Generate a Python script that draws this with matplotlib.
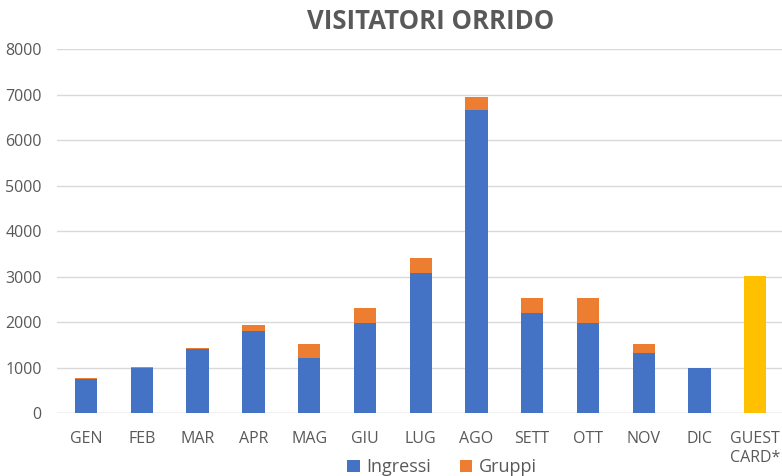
import numpy as np
import matplotlib

matplotlib.use("Agg")
import matplotlib.pyplot as plt

months = ["GEN", "FEB", "MAR", "APR", "MAG", "GIU", "LUG", "AGO", "SETT", "OTT", "NOV", "DIC"]
ingressi = [750, 1000, 1400, 1800, 1220, 1980, 3090, 6650, 2210, 1990, 1320, 1000]
gruppi = [25, 10, 40, 130, 300, 330, 320, 300, 330, 540, 200, 0]
guest_label = "GUEST\nCARD*"
guest_card = 3010

plt.rcParams["font.family"] = ["Open Sans", "DejaVu Sans"]
GREY = "#595959"

fig = plt.figure(figsize=(7.82, 4.76), dpi=100)
ax = fig.add_axes([0.073, 0.132, 0.927, 0.765])

x = np.arange(len(months))
w = 0.4
ax.bar(x, ingressi, w, color="#4472C4", label="Ingressi", zorder=3)
ax.bar(x, gruppi, w, bottom=ingressi, color="#ED7D31", label="Gruppi", zorder=3)
ax.bar([len(months)], [guest_card], w, color="#FFC000", zorder=3)

ax.set_xticks(list(x) + [len(months)])
ax.set_xticklabels(months + [guest_label], fontsize=11.5, color=GREY, linespacing=1.2)
ax.set_xlim(-0.52, 12.48)
ax.set_ylim(0, 8000)
ax.set_yticks(np.arange(0, 8001, 1000))
ax.tick_params(axis="y", labelsize=11.5, labelcolor=GREY, length=0, pad=11)
ax.tick_params(axis="x", length=0, pad=13)
ax.grid(axis="y", color="#D9D9D9", linewidth=1, zorder=0)
for spine in ax.spines.values():
    spine.set_visible(False)
ax.axhline(0, color="#D9D9D9", linewidth=1, zorder=1)

fig.text(0.551, 0.955, "VISITATORI ORRIDO", ha="center", va="center",
         fontsize=18.5, fontweight="bold", color=GREY)

fig.legend(loc="lower center", bbox_to_anchor=(0.565, -0.035), ncol=2, frameon=False,
           fontsize=13, handlelength=0.7, handleheight=0.7, columnspacing=1.6,
           handletextpad=0.35, labelcolor=GREY)

fig.savefig("out.png", dpi=100)
